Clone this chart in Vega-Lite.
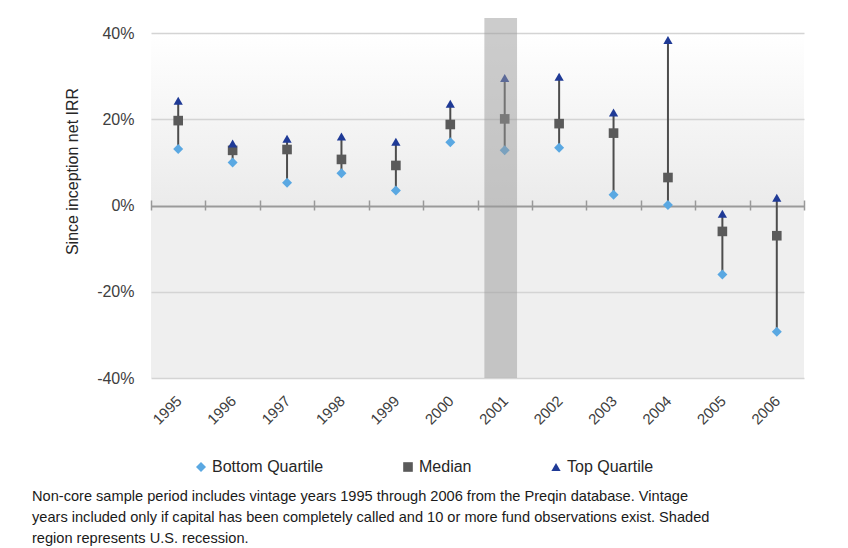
{
  "$schema": "https://vega.github.io/schema/vega-lite/v6.json",
  "width": 653,
  "height": 360,
  "autosize": "none",
  "padding": {"left": 151, "top": 18, "right": 44, "bottom": 170},
  "background": "#ffffff",
  "config": {
    "font": "Liberation Sans",
    "view": {
      "stroke": null,
      "fill": {
        "gradient": "linear", "x1": 0, "y1": 0, "x2": 0, "y2": 1,
        "stops": [
          {"offset": 0, "color": "#ffffff"},
          {"offset": 0.042, "color": "#ffffff"},
          {"offset": 0.52, "color": "#ebebeb"},
          {"offset": 0.521, "color": "#efefef"},
          {"offset": 1, "color": "#efefef"}
        ]
      }
    }
  },
  "title": {
    "text": [
      "Non-core sample period includes vintage years 1995 through 2006 from the Preqin database. Vintage",
      "years included only if capital has been completely called and 10 or more fund observations exist. Shaded",
      "region represents U.S. recession."
    ],
    "orient": "bottom",
    "anchor": "start",
    "frame": "group",
    "dx": -119,
    "offset": 14,
    "fontSize": 14.6,
    "fontWeight": "normal",
    "color": "#1a1a1a",
    "lineHeight": 21
  },
  "datasets": {
    "irr": [
      {"year": "1995", "Bottom Quartile": 0.131, "Median": 0.197, "Top Quartile": 0.243},
      {"year": "1996", "Bottom Quartile": 0.100, "Median": 0.128, "Top Quartile": 0.144},
      {"year": "1997", "Bottom Quartile": 0.053, "Median": 0.130, "Top Quartile": 0.155},
      {"year": "1998", "Bottom Quartile": 0.075, "Median": 0.107, "Top Quartile": 0.160},
      {"year": "1999", "Bottom Quartile": 0.035, "Median": 0.093, "Top Quartile": 0.148},
      {"year": "2000", "Bottom Quartile": 0.147, "Median": 0.188, "Top Quartile": 0.236},
      {"year": "2001", "Bottom Quartile": 0.128, "Median": 0.201, "Top Quartile": 0.296},
      {"year": "2002", "Bottom Quartile": 0.134, "Median": 0.190, "Top Quartile": 0.299},
      {"year": "2003", "Bottom Quartile": 0.025, "Median": 0.168, "Top Quartile": 0.216},
      {"year": "2004", "Bottom Quartile": 0.001, "Median": 0.065, "Top Quartile": 0.384},
      {"year": "2005", "Bottom Quartile": -0.160, "Median": -0.060, "Top Quartile": -0.019},
      {"year": "2006", "Bottom Quartile": -0.293, "Median": -0.070, "Top Quartile": 0.018}
    ],
    "recession": [{"year": "2001"}]
  },
  "resolve": {"axis": {"x": "independent"}},
  "layer": [
    {
      "data": {"name": "irr"},
      "mark": {"type": "rule", "color": "#4d4d4d", "strokeWidth": 2},
      "encoding": {
        "x": {
          "field": "year", "type": "ordinal",
          "scale": {"paddingInner": 0, "paddingOuter": 0},
          "axis": {
            "orient": "bottom", "offset": -178, "labels": false, "domain": false,
            "ticks": true, "tickBand": "extent", "tickSize": 10, "tickColor": "#999999",
            "tickWidth": 1.5, "title": null, "grid": false
          }
        },
        "y": {
          "field": "Bottom Quartile", "type": "quantitative",
          "scale": {"domain": [-0.4, 0.435], "nice": false, "zero": false},
          "axis": {
            "values": [-0.4, -0.2, 0, 0.2, 0.4],
            "format": ".0%",
            "labelExpr": "replace(datum.label, '\u2212', '-')",
            "labelFontSize": 16,
            "labelColor": "#404040",
            "labelPadding": 17,
            "domain": false,
            "ticks": false,
            "grid": true,
            "gridColor": {"condition": {"test": "datum.value === 0", "value": "#9a9a9a"}, "value": "#d4d4d4"},
            "gridWidth": {"condition": {"test": "datum.value === 0", "value": 2}, "value": 1.5},
            "title": "Since inception net IRR",
            "titleFontSize": 16,
            "titleFontWeight": "normal",
            "titleColor": "#262626",
            "titlePadding": 16,
            "titleY": 153
          }
        },
        "y2": {"field": "Top Quartile"}
      }
    },
    {
      "data": {"name": "irr"},
      "transform": [
        {"fold": ["Bottom Quartile", "Median", "Top Quartile"], "as": ["series", "value"]}
      ],
      "mark": {"type": "point", "filled": true, "opacity": 1},
      "encoding": {
        "x": {
          "field": "year", "type": "ordinal",
          "axis": {
            "orient": "bottom", "labelAngle": -45, "labelFontSize": 15, "labelColor": "#404040",
            "domain": false, "ticks": false, "labelPadding": 15, "labelOffset": -4,
            "title": null, "grid": false
          }
        },
        "y": {"field": "value", "type": "quantitative"},
        "color": {
          "field": "series", "type": "nominal",
          "scale": {
            "domain": ["Bottom Quartile", "Median", "Top Quartile"],
            "range": ["#5aa8e2", "#5a5a5a", "#1f3a96"]
          },
          "legend": {
            "orient": "none", "legendX": 42, "legendY": 441, "direction": "horizontal",
            "columns": 3, "columnPadding": 76, "title": null, "labelFontSize": 16,
            "labelColor": "#262626", "symbolSize": 60, "symbolStrokeWidth": 0, "labelOffset": 3
          }
        },
        "shape": {
          "field": "series", "type": "nominal",
          "scale": {
            "domain": ["Bottom Quartile", "Median", "Top Quartile"],
            "range": ["diamond", "square", "triangle-up"]
          }
        },
        "size": {
          "field": "series", "type": "nominal",
          "scale": {
            "domain": ["Bottom Quartile", "Median", "Top Quartile"],
            "range": [100, 85, 105]
          },
          "legend": null
        }
      }
    },
    {
      "data": {"name": "recession"},
      "mark": {"type": "bar", "color": "#9a9a9a", "opacity": 0.5, "width": {"band": 0.6}, "xOffset": -4},
      "encoding": {
        "x": {"field": "year", "type": "ordinal", "axis": null},
        "y": {"datum": 0.435},
        "y2": {"datum": -0.4}
      }
    }
  ]
}
